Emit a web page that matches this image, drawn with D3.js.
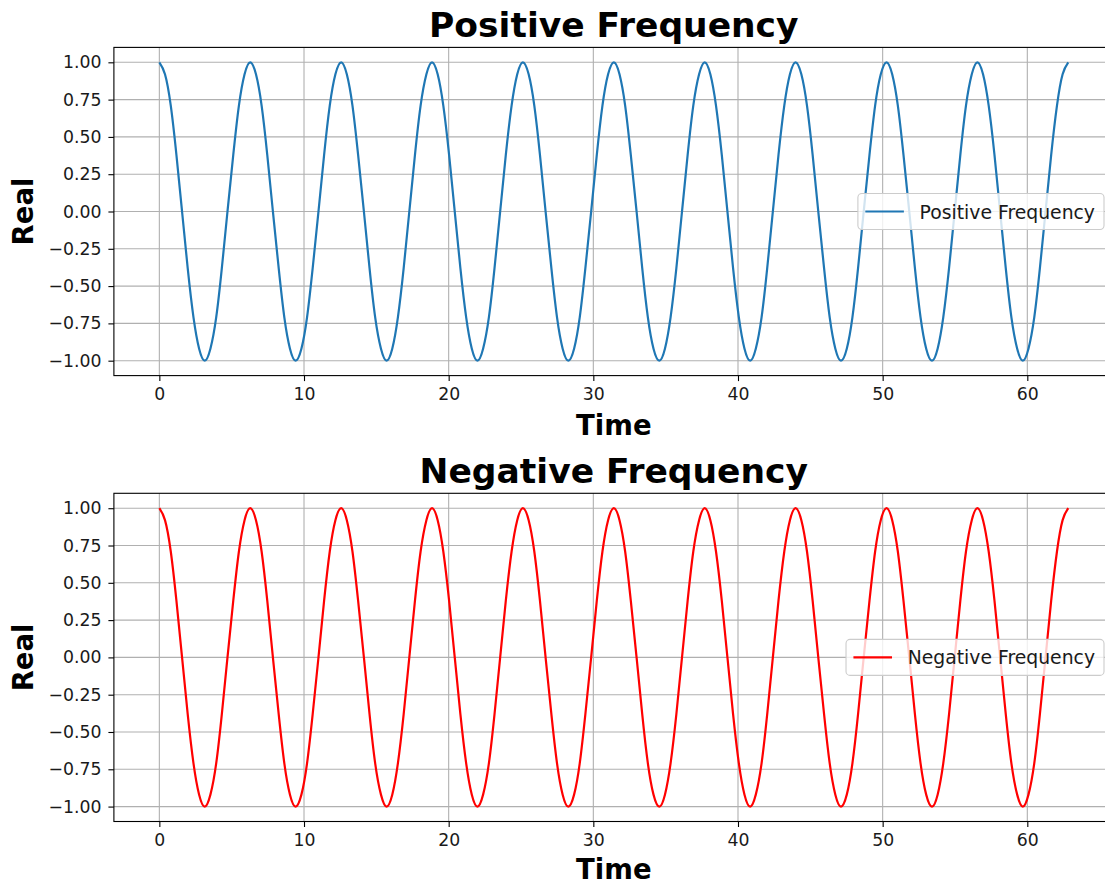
<!DOCTYPE html>
<html>
<head>
<meta charset="utf-8">
<script src="https://cdn.jsdelivr.net/npm/d3@7"></script>
<style>
  html, body { margin: 0; padding: 0; background: #fff; overflow: hidden; }
  svg { display: block; font-family: "DejaVu Sans", sans-serif; }
</style>
</head>
<body>
<svg id="chart" width="1105" height="881"></svg>
<script>
// Sample times (seconds), one row per period of the signal
const time = [
  0, 0.39, 0.79, 1.18, 1.57, 1.96, 2.36, 2.75, 3.14, 3.53, 3.93, 4.32, 4.71, 5.11, 5.50, 5.89,
  6.28, 6.68, 7.07, 7.46, 7.85, 8.25, 8.64, 9.03, 9.42, 9.82, 10.21, 10.60, 11.00, 11.39, 11.78, 12.17,
  12.57, 12.96, 13.35, 13.74, 14.14, 14.53, 14.92, 15.32, 15.71, 16.10, 16.49, 16.89, 17.28, 17.67, 18.06, 18.46,
  18.85, 19.24, 19.63, 20.03, 20.42, 20.81, 21.21, 21.60, 21.99, 22.38, 22.78, 23.17, 23.56, 23.95, 24.35, 24.74,
  25.13, 25.53, 25.92, 26.31, 26.70, 27.10, 27.49, 27.88, 28.27, 28.67, 29.06, 29.45, 29.85, 30.24, 30.63, 31.02,
  31.42, 31.81, 32.20, 32.59, 32.99, 33.38, 33.77, 34.16, 34.56, 34.95, 35.34, 35.74, 36.13, 36.52, 36.91, 37.31,
  37.70, 38.09, 38.48, 38.88, 39.27, 39.66, 40.06, 40.45, 40.84, 41.23, 41.63, 42.02, 42.41, 42.80, 43.20, 43.59,
  43.98, 44.38, 44.77, 45.16, 45.55, 45.95, 46.34, 46.73, 47.12, 47.52, 47.91, 48.30, 48.69, 49.09, 49.48, 49.87,
  50.27, 50.66, 51.05, 51.44, 51.84, 52.23, 52.62, 53.01, 53.41, 53.80, 54.19, 54.59, 54.98, 55.37, 55.76, 56.16,
  56.55, 56.94, 57.33, 57.73, 58.12, 58.51, 58.90, 59.30, 59.69, 60.08, 60.48, 60.87, 61.26, 61.65, 62.05, 62.44,
  62.83
];

// Real part of the positive-frequency signal
const positiveReal = [
  1, 0.92, 0.71, 0.38, 0, -0.38, -0.71, -0.92, -1, -0.92, -0.71, -0.38, 0, 0.38, 0.71, 0.92,
  1, 0.92, 0.71, 0.38, 0, -0.38, -0.71, -0.92, -1, -0.92, -0.71, -0.38, 0, 0.38, 0.71, 0.92,
  1, 0.92, 0.71, 0.38, 0, -0.38, -0.71, -0.92, -1, -0.92, -0.71, -0.38, 0, 0.38, 0.71, 0.92,
  1, 0.92, 0.71, 0.38, 0, -0.38, -0.71, -0.92, -1, -0.92, -0.71, -0.38, 0, 0.38, 0.71, 0.92,
  1, 0.92, 0.71, 0.38, 0, -0.38, -0.71, -0.92, -1, -0.92, -0.71, -0.38, 0, 0.38, 0.71, 0.92,
  1, 0.92, 0.71, 0.38, 0, -0.38, -0.71, -0.92, -1, -0.92, -0.71, -0.38, 0, 0.38, 0.71, 0.92,
  1, 0.92, 0.71, 0.38, 0, -0.38, -0.71, -0.92, -1, -0.92, -0.71, -0.38, 0, 0.38, 0.71, 0.92,
  1, 0.92, 0.71, 0.38, 0, -0.38, -0.71, -0.92, -1, -0.92, -0.71, -0.38, 0, 0.38, 0.71, 0.92,
  1, 0.92, 0.71, 0.38, 0, -0.38, -0.71, -0.92, -1, -0.92, -0.71, -0.38, 0, 0.38, 0.71, 0.92,
  1, 0.92, 0.71, 0.38, 0, -0.38, -0.71, -0.92, -1, -0.92, -0.71, -0.38, 0, 0.38, 0.71, 0.92,
  1
];

// Real part of the negative-frequency signal
const negativeReal = [
  1, 0.92, 0.71, 0.38, 0, -0.38, -0.71, -0.92, -1, -0.92, -0.71, -0.38, 0, 0.38, 0.71, 0.92,
  1, 0.92, 0.71, 0.38, 0, -0.38, -0.71, -0.92, -1, -0.92, -0.71, -0.38, 0, 0.38, 0.71, 0.92,
  1, 0.92, 0.71, 0.38, 0, -0.38, -0.71, -0.92, -1, -0.92, -0.71, -0.38, 0, 0.38, 0.71, 0.92,
  1, 0.92, 0.71, 0.38, 0, -0.38, -0.71, -0.92, -1, -0.92, -0.71, -0.38, 0, 0.38, 0.71, 0.92,
  1, 0.92, 0.71, 0.38, 0, -0.38, -0.71, -0.92, -1, -0.92, -0.71, -0.38, 0, 0.38, 0.71, 0.92,
  1, 0.92, 0.71, 0.38, 0, -0.38, -0.71, -0.92, -1, -0.92, -0.71, -0.38, 0, 0.38, 0.71, 0.92,
  1, 0.92, 0.71, 0.38, 0, -0.38, -0.71, -0.92, -1, -0.92, -0.71, -0.38, 0, 0.38, 0.71, 0.92,
  1, 0.92, 0.71, 0.38, 0, -0.38, -0.71, -0.92, -1, -0.92, -0.71, -0.38, 0, 0.38, 0.71, 0.92,
  1, 0.92, 0.71, 0.38, 0, -0.38, -0.71, -0.92, -1, -0.92, -0.71, -0.38, 0, 0.38, 0.71, 0.92,
  1, 0.92, 0.71, 0.38, 0, -0.38, -0.71, -0.92, -1, -0.92, -0.71, -0.38, 0, 0.38, 0.71, 0.92,
  1
];

const xTicks = [0, 10, 20, 30, 40, 50, 60];
const yTicks = [-1.00, -0.75, -0.50, -0.25, 0.00, 0.25, 0.50, 0.75, 1.00];

const panels = [
  { title: "Positive Frequency", label: "Positive Frequency", values: positiveReal, color: "#1f77b4", top: 47.4, xLabelGap: 59 },
  { title: "Negative Frequency", label: "Negative Frequency", values: negativeReal, color: "#ff0000", top: 493.3, xLabelGap: 57.5 }
];

const svg = d3.select("#chart");
const left = 113.9, right = 1113.7, plotH = 328.2;

const xMin = d3.min(time), xMax = d3.max(time);
const xPad = (xMax - xMin) * 0.05;
const x = d3.scaleLinear().domain([xMin - xPad, xMax + xPad]).range([left, right]);

panels.forEach(p => {
  const y = d3.scaleLinear().domain([-1.1, 1.1]).range([p.top + plotH, p.top]);
  const g = svg.append("g");

  // grid
  g.append("g").selectAll("line").data(xTicks).join("line")
    .attr("x1", d => x(d)).attr("x2", d => x(d))
    .attr("y1", p.top).attr("y2", p.top + plotH)
    .attr("stroke", "#b0b0b0").attr("stroke-width", 1.1);
  g.append("g").selectAll("line").data(yTicks).join("line")
    .attr("x1", left).attr("x2", right)
    .attr("y1", d => y(d)).attr("y2", d => y(d))
    .attr("stroke", "#b0b0b0").attr("stroke-width", 1.1);

  // signal
  const pts = time.map((t, i) => [t, p.values[i]]);
  g.append("path")
    .datum(pts)
    .attr("fill", "none")
    .attr("stroke", p.color)
    .attr("stroke-width", 2.2)
    .attr("d", d3.line().x(d => x(d[0])).y(d => y(d[1])).curve(d3.curveNatural));

  // axes
  const xAxis = d3.axisBottom(x).tickValues(xTicks).tickFormat(d3.format("d")).tickSizeOuter(0).tickSize(5.5).tickPadding(7);
  const yAxis = d3.axisLeft(y).tickValues(yTicks).tickFormat(d3.format(".2f")).tickSizeOuter(0).tickSize(5.5).tickPadding(7);

  const gx = g.append("g").attr("transform", `translate(0,${p.top + plotH})`).call(xAxis);
  const gy = g.append("g").attr("transform", `translate(${left},0)`).call(yAxis);
  [gx, gy].forEach(a => {
    a.select(".domain").remove();
    a.selectAll(".tick line").attr("stroke", "#000").attr("stroke-width", 1.1);
    a.selectAll(".tick text").attr("font-size", 17.3).attr("fill", "#1a1a1a")
      .attr("font-family", "DejaVu Sans");
  });

  // frame
  g.append("rect")
    .attr("x", left).attr("y", p.top)
    .attr("width", right - left).attr("height", plotH)
    .attr("fill", "none").attr("stroke", "#000").attr("stroke-width", 1.1);

  const cx = (left + right) / 2;

  // title
  svg.append("text")
    .attr("x", cx).attr("y", p.top - 10.5)
    .attr("text-anchor", "middle")
    .attr("font-size", 34.5).attr("font-weight", "bold")
    .text(p.title);

  // x label
  svg.append("text")
    .attr("x", cx).attr("y", p.top + plotH + p.xLabelGap)
    .attr("text-anchor", "middle")
    .attr("font-size", 27.5).attr("font-weight", "bold")
    .text("Time");

  // y label
  svg.append("text")
    .attr("transform", `translate(33,${p.top + plotH / 2}) rotate(-90)`)
    .attr("text-anchor", "middle")
    .attr("font-size", 27.5).attr("font-weight", "bold")
    .text("Real");

  // legend
  const lg = svg.append("g");
  const box = lg.append("rect");
  const txt = lg.append("text")
    .attr("font-size", 18.8).attr("fill", "#1a1a1a")
    .text(p.label);
  const tw = txt.node().getComputedTextLength();
  const boxH = 36, padL = 7.4, handle = 38.6, gap = 15.7, padR = 9;
  const boxW = padL + handle + gap + tw + padR;
  const bx = right - 9.7 - boxW;
  const by = p.top + plotH / 2 - boxH / 2;
  box.attr("x", bx).attr("y", by).attr("width", boxW).attr("height", boxH)
    .attr("rx", 4).attr("ry", 4)
    .attr("fill", "#fff").attr("fill-opacity", 0.8)
    .attr("stroke", "#cccccc").attr("stroke-width", 1.1);
  lg.append("line")
    .attr("x1", bx + padL).attr("x2", bx + padL + handle)
    .attr("y1", by + boxH / 2).attr("y2", by + boxH / 2)
    .attr("stroke", p.color).attr("stroke-width", 2.2);
  txt.attr("x", bx + padL + handle + gap).attr("y", by + boxH / 2 + 7);
});
</script>
</body>
</html>
